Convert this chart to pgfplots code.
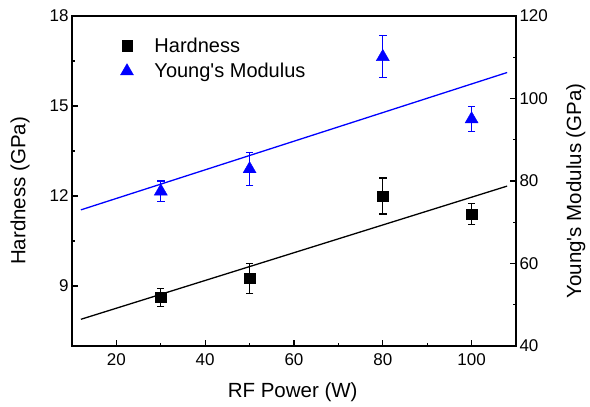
\documentclass[border=0pt]{standalone}
\usepackage{fontspec}
\setmainfont{Liberation Sans}
\usepackage{pgfplots}
\pgfplotsset{compat=1.18}
\begin{document}
\begin{tikzpicture}
\useasboundingbox (0,0) rectangle (590pt,407pt);
\pgfplotsset{
  common/.style={
    at={(72pt,61pt)}, anchor=south west,
    scale only axis, width=444pt, height=330pt,
    xmin=10, xmax=110,
    axis line style={line width=1.5pt},
    major tick length=6pt, minor tick length=3pt,
    every tick/.style={line width=1.3pt, black},
    tick align=inside,
    /pgf/number format/assume math mode=true,
    tick label style={font=\fontsize{17}{20}\selectfont},
    label style={font=\fontsize{20.5}{24}\selectfont},
  },
  errs/.style={error bars/.cd, y dir=both, y explicit,
    error bar style={line width=1.1pt},
    error mark options={rotate=90, mark size=3.7pt, line width=1.1pt}},
}
\begin{axis}[common,
  ymin=7, ymax=18,
  xtick={20,40,60,80,100}, minor x tick num=1,
  ytick={9,12,15,18}, minor y tick num=1,
  xtick pos=bottom, ytick pos=left,
  xticklabel style={yshift=-4pt},
  xlabel={RF Power (W)},
  ylabel={Hardness (GPa)},
  xlabel style={at={(axis description cs:0.497,-0.139)}, anchor=center},
  ylabel style={at={(axis description cs:-0.117,0.47)}, anchor=center, rotate=0},
  legend style={draw=none, fill=none, at={(axis description cs:0.102,0.947)}, anchor=north west,
    font=\fontsize{20}{24}\selectfont, row sep=5.5pt, column sep=19pt},
  legend cell align=left,
]
\addplot[black, only marks, mark=square*, mark size=5.2pt, errs]
  coordinates {(30,8.63) +- (0,0.30) (50,9.25) +- (0,0.49) (80,12.0) +- (0,0.60) (100,11.40) +- (0,0.34)};
\addlegendentry{Hardness}
\addlegendimage{blue, only marks, mark=triangle*, mark size=7.5pt}
\addlegendentry{Young\textquotesingle s Modulus}
\addplot[black, line width=1.3pt, no marks, forget plot] coordinates {(12,7.89) (108,12.33)};
\end{axis}
\begin{axis}[common,
  ymin=40, ymax=120,
  axis x line=none, axis y line*=right,
  ytick={40,60,80,100,120}, minor y tick num=1,
  ytick pos=right,
  ylabel={Young\textquotesingle s Modulus (GPa)},
  ylabel style={at={(axis description cs:1.135,0.47)}, anchor=center, rotate=0},
]
\addplot[blue, only marks, mark=triangle*, mark size=7.5pt, errs]
  coordinates {(30,77.5) +- (0,2.5) (50,82.9) +- (0,4.0) (80,110.1) +- (0,5.1) (100,95.0) +- (0,3.0)};
\addplot[blue, line width=1.3pt, no marks] coordinates {(12,73.0) (108,106.3)};
\end{axis}
\end{tikzpicture}
\end{document}
